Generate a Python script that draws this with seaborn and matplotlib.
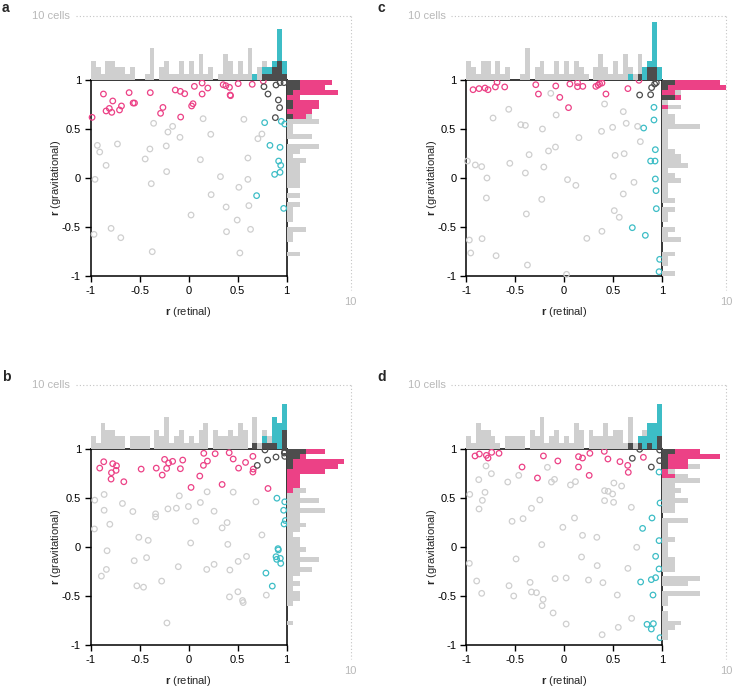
import numpy as np
import pandas as pd
import seaborn as sns
import matplotlib.pyplot as plt

# scatter points (r retinal, r gravitational) per panel and group
a_pink = [(-0.986,0.619),(-0.87,0.857),(-0.843,0.684),(-0.81,0.71),(-0.775,0.786),(-0.785,0.67),(-0.706,0.694),(-0.686,0.735),(-0.567,0.765),(-0.553,0.765),(-0.608,0.871),(-0.392,0.871),(-0.287,0.66),(-0.263,0.72),(-0.137,0.898),(-0.085,0.884),(-0.041,0.86),(-0.082,0.622),(0.03,0.735),(0.044,0.758),(0.058,0.935),(0.137,0.969),(0.137,0.857),(0.195,0.918),(0.352,0.952),(0.379,0.942),(0.416,0.925),(0.423,0.847),(0.427,0.84),(0.505,0.963),(0.648,0.956),(0.761,0.99)]
a_dark = [(0.768,0.932),(0.809,0.857),(0.891,0.949),(0.932,0.973),(0.973,0.973),(0.915,0.796),(0.928,0.718),(0.884,0.616)]
a_teal = [(0.775,0.565),(0.945,0.578),(0.98,0.551),(0.829,0.333),(0.932,0.313),(0.918,0.173),(0.939,0.129),(0.932,0.058),(0.877,0.037),(0.693,-0.18),(0.969,-0.31)]
a_grey = [(-0.932,0.333),(-0.908,0.265),(-0.956,-0.014),(-0.843,0.129),(-0.727,0.347),(-0.966,-0.575),(-0.792,-0.514),(-0.693,-0.609),(-0.358,0.558),(-0.396,0.296),(-0.444,0.194),(-0.212,0.469),(-0.164,0.527),(-0.089,0.415),(-0.229,0.327),(-0.225,0.065),(-0.382,-0.058),(0.147,0.605),(0.225,0.446),(0.119,0.187),(0.324,0.014),(0.229,-0.17),(0.024,-0.378),(0.382,-0.296),(0.495,-0.429),(0.386,-0.548),(0.631,-0.524),(0.512,-0.095),(0.604,-0.014),(0.614,-0.282),(0.604,0.204),(0.563,0.599),(0.706,0.401),(0.747,0.449),(-0.372,-0.752),(0.522,-0.765)]

b_pink = [(-0.908,0.805),(-0.867,0.87),(-0.775,0.85),(-0.737,0.829),(-0.788,0.758),(-0.741,0.782),(-0.792,0.693),(-0.662,0.666),(-0.485,0.795),(-0.331,0.805),(-0.27,0.734),(-0.246,0.894),(-0.225,0.802),(-0.205,0.857),(-0.164,0.874),(-0.085,0.799),(-0.061,0.887),(0.024,0.608),(0.113,0.724),(0.15,0.833),(0.191,0.877),(0.154,0.956),(0.27,0.952),(0.341,0.638),(0.413,0.962),(0.454,0.898),(0.509,0.805),(0.58,0.863),(0.655,0.925),(0.659,0.795),(0.655,0.765),(0.809,0.597)]
b_dark = [(0.7,0.833),(0.805,0.887),(0.891,0.918),(0.976,0.959),(0.98,0.925),(0.778,0.99),(0.98,0.973)]
b_teal = [(0.9,0.498),(0.98,0.461),(0.969,0.375),(0.986,0.27),(0.973,0.235),(0.911,-0.017),(0.915,-0.03),(0.891,-0.099),(0.898,-0.126),(0.935,-0.116),(0.939,-0.167),(0.788,-0.266),(0.853,-0.399)]
b_grey = [(-0.959,0.478),(-0.863,0.536),(-0.863,0.375),(-0.805,0.232),(-0.962,0.184),(-0.676,0.444),(-0.57,0.362),(-0.338,0.338),(-0.338,0.307),(-0.212,0.389),(-0.126,0.396),(-0.096,0.522),(-0.003,0.413),(0.119,0.454),(0.188,0.563),(0.259,0.365),(0.072,0.263),(0.341,0.195),(0.392,0.249),(0.454,0.56),(0.686,0.461),(0.747,0.123),(-0.509,0.099),(-0.413,0.068),(0.02,0.041),(0.399,0.027),(-0.833,-0.038),(-0.556,-0.14),(-0.43,-0.109),(-0.84,-0.229),(-0.891,-0.297),(-0.106,-0.201),(0.184,-0.229),(0.259,-0.177),(0.42,-0.235),(0.505,-0.147),(0.59,-0.096),(-0.276,-0.348),(-0.529,-0.396),(-0.461,-0.41),(0.416,-0.509),(0.502,-0.457),(0.549,-0.546),(0.556,-0.567),(0.792,-0.491),(-0.222,-0.775)]

c_pink = [(-0.928,0.901),(-0.867,0.912),(-0.806,0.918),(-0.775,0.901),(-0.7,0.929),(-0.683,0.976),(-0.605,0.929),(-0.288,0.952),(-0.261,0.857),(-0.084,0.939),(-0.043,0.823),(0.046,0.718),(0.06,0.959),(0.138,0.973),(0.138,0.932),(0.192,0.935),(0.325,0.935),(0.349,0.949),(0.363,0.963),(0.387,0.969),(0.428,0.857),(0.652,0.912),(0.765,0.997)]
c_dark = [(0.772,0.847),(0.884,0.85),(0.894,0.922),(0.925,0.959),(0.942,0.973)]
c_teal = [(0.918,0.721),(0.918,0.592),(0.813,0.51),(0.932,0.289),(0.884,0.173),(0.929,0.173),(0.932,-0.01),(0.939,-0.129),(0.942,-0.313),(0.697,-0.507),(0.83,-0.585),(0.976,-0.83),(0.97,-0.956)]
c_grey = [(-0.986,0.173),(-0.905,0.133),(-0.84,0.116),(-0.786,0.0),(-0.792,-0.204),(-0.724,0.612),(-0.564,0.701),(-0.553,0.15),(-0.441,0.544),(-0.394,0.537),(-0.356,0.238),(-0.394,0.051),(-0.384,-0.367),(-0.22,0.5),(-0.158,0.276),(-0.206,0.112),(-0.227,-0.218),(-0.135,0.864),(-0.08,0.643),(-0.087,0.316),(0.152,0.412),(0.036,-0.017),(0.121,-0.075),(0.414,0.755),(0.383,0.476),(0.496,0.517),(0.635,0.558),(0.605,0.677),(0.751,0.527),(0.779,0.371),(0.522,0.231),(0.614,0.248),(0.503,0.017),(0.714,-0.044),(0.605,-0.163),(0.513,-0.333),(0.564,-0.401),(0.387,-0.544),(0.233,-0.616),(-0.966,-0.633),(-0.836,-0.619),(-0.952,-0.765),(-0.693,-0.793),(-0.373,-0.888),(0.026,-0.983)]

d_pink = [(-0.908,0.929),(-0.864,0.949),(-0.792,0.935),(-0.775,0.908),(-0.738,0.966),(-0.663,0.956),(-0.428,0.816),(-0.21,0.929),(-0.063,0.878),(-0.271,0.704),(0.148,0.922),(0.189,0.908),(0.148,0.816),(0.257,0.731),(0.264,0.956),(0.411,0.976),(0.448,0.898),(0.571,0.871),(0.65,0.833),(0.656,0.762),(0.81,0.915)]
d_dark = [(0.697,0.905),(0.891,0.816),(0.976,0.881),(0.772,0.997),(0.976,0.99)]
d_teal = [(0.97,0.765),(0.98,0.449),(0.898,0.296),(0.802,0.19),(0.97,0.065),(0.935,-0.095),(0.97,-0.224),(0.935,-0.313),(0.891,-0.333),(0.782,-0.357),(0.908,-0.49),(0.847,-0.789),(0.912,-0.782),(0.891,-0.837),(0.98,-0.925)]
d_grey = [(-0.962,0.537),(-0.867,0.388),(-0.833,0.476),(-0.806,0.558),(-0.87,0.687),(-0.796,0.827),(-0.741,0.748),(-0.574,0.663),(-0.462,0.731),(-0.53,0.262),(-0.418,0.289),(-0.332,0.395),(-0.247,0.48),(-0.169,0.813),(-0.128,0.663),(-0.097,0.69),(0.066,0.633),(0.117,0.667),(-0.012,0.201),(0.107,0.296),(0.189,0.119),(0.335,0.099),(0.414,0.575),(0.451,0.568),(0.496,0.541),(0.414,0.473),(0.506,0.456),(0.509,0.653),(0.588,0.622),(0.687,0.405),(-0.227,0.024),(0.742,-0.003),(-0.966,-0.167),(-0.489,-0.122),(0.179,-0.102),(0.339,-0.19),(0.652,-0.218),(-0.891,-0.347),(-0.561,-0.395),(-0.346,-0.361),(-0.332,-0.459),(-0.281,-0.466),(-0.091,-0.323),(0.022,-0.316),(0.25,-0.337),(0.397,-0.364),(-0.84,-0.473),(-0.513,-0.5),(-0.213,-0.534),(-0.223,-0.599),(0.544,-0.49),(-0.111,-0.673),(0.022,-0.786),(0.554,-0.82),(0.69,-0.728),(0.389,-0.895)]

ticks = [-1, -0.5, 0, 0.5, 1]
tick_labels = ['-1', '-0.5', '0', '0.5', '1']

PINK = '#EC4186'
TEAL = '#3DBDC6'
DARK = '#4D4D4D'
GREY = '#CFCFCF'
GUIDE = '#C4C4C4'

sns.set_style('white')
plt.rcParams['font.family'] = ['Liberation Sans', 'DejaVu Sans']
plt.rcParams['mathtext.fontset'] = 'custom'
plt.rcParams['mathtext.bf'] = 'Liberation Sans:bold'
plt.rcParams['mathtext.rm'] = 'Liberation Sans'

W, H = 739, 688
fig = plt.figure(figsize=(W / 100, H / 100), dpi=100)
edges = np.linspace(-1, 1, 41)


def px_axes(x0, y0, x1, y1):
    return fig.add_axes([x0 / W, 1 - y1 / H, (x1 - x0) / W, (y1 - y0) / H])


def to_df(pink, dark, teal, grey):
    parts = []
    for name, pts in [('grey', grey), ('pink', pink), ('teal', teal), ('dark', dark)]:
        d = pd.DataFrame(pts, columns=['x', 'y'])
        d['group'] = name
        parts.append(d)
    return pd.concat(parts, ignore_index=True)


def panel(letter, left, top, df):
    size = 196
    hist_len = 64
    ax = px_axes(left, top, left + size, top + size)
    ax_top = px_axes(left, top - hist_len, left + size, top)
    ax_right = px_axes(left + size, top, left + size + hist_len, top + size)

    # marginal histograms: all cells in grey, selective cells on top
    g = df['group']
    hkw = dict(bins=edges, alpha=1, linewidth=0)
    sns.histplot(x=df['x'], ax=ax_top, color=GREY, **hkw)
    sns.histplot(x=df.loc[g.isin(['dark', 'teal']), 'x'], ax=ax_top, color=TEAL, **hkw)
    sns.histplot(x=df.loc[g == 'dark', 'x'], ax=ax_top, color=DARK, **hkw)
    sns.histplot(y=df['y'], ax=ax_right, color=GREY, **hkw)
    sns.histplot(y=df.loc[g.isin(['dark', 'pink']), 'y'], ax=ax_right, color=PINK, **hkw)
    sns.histplot(y=df.loc[g == 'dark', 'y'], ax=ax_right, color=DARK, **hkw)
    ax_top.set_xlim(-1, 1)
    ax_top.set_ylim(0, 10)
    ax_right.set_ylim(-1, 1)
    ax_right.set_xlim(0, 10)
    ax_top.axis('off')
    ax_right.axis('off')

    # "10 cells" guides
    far = 1 + 2 * hist_len / size
    ax_top.plot([-1.15, far], [10, 10], ls=(0, (1, 2)), color=GUIDE, lw=0.8, clip_on=False)
    ax_top.text(-1.21, 10, '10 cells', ha='right', va='center', color='#B8B8B8', fontsize=8)
    ax_right.plot([10, 10], [far, -1.14], ls=(0, (1, 2)), color=GUIDE, lw=0.8, clip_on=False)
    ax_right.text(10, -1.27, '10', ha='center', va='center', color='#B8B8B8', fontsize=8)

    # scatter
    colors = {'grey': GREY, 'pink': PINK, 'teal': TEAL, 'dark': DARK}
    for name in ['grey', 'pink', 'teal', 'dark']:
        sub = df[g == name]
        sns.scatterplot(x=sub['x'], y=sub['y'], ax=ax, s=16, marker='o',
                        facecolors='none', edgecolor=colors[name], linewidth=0.9,
                        clip_on=False, zorder=3)
    ax.set_xlim(-1, 1)
    ax.set_ylim(-1, 1)
    ax.set_xticks(ticks)
    ax.set_xticklabels(tick_labels)
    ax.set_yticks(ticks)
    ax.set_yticklabels(tick_labels)
    for s in ax.spines.values():
        s.set_color('black')
        s.set_linewidth(1.1)
    ax.tick_params(direction='out', length=4, width=1, labelsize=8, pad=3,
                   colors='black', left=True, bottom=True)
    ax.set_xlabel(r'$\mathbf{r}$ (retinal)', fontsize=8, labelpad=6.5)
    ax.set_ylabel(r'$\mathbf{r}$ (gravitational)', fontsize=8, labelpad=-1)
    fig.text((left - 89) / W, 1 - (top - 79) / H, letter, fontsize=10,
             fontweight='bold', ha='left', va='top')


panel('a', 90.7, 80, to_df(a_pink, a_dark, a_teal, a_grey))
panel('c', 466, 80, to_df(c_pink, c_dark, c_teal, c_grey))
panel('b', 90.7, 449, to_df(b_pink, b_dark, b_teal, b_grey))
panel('d', 466, 449, to_df(d_pink, d_dark, d_teal, d_grey))

fig.savefig('out.png', dpi=100)
